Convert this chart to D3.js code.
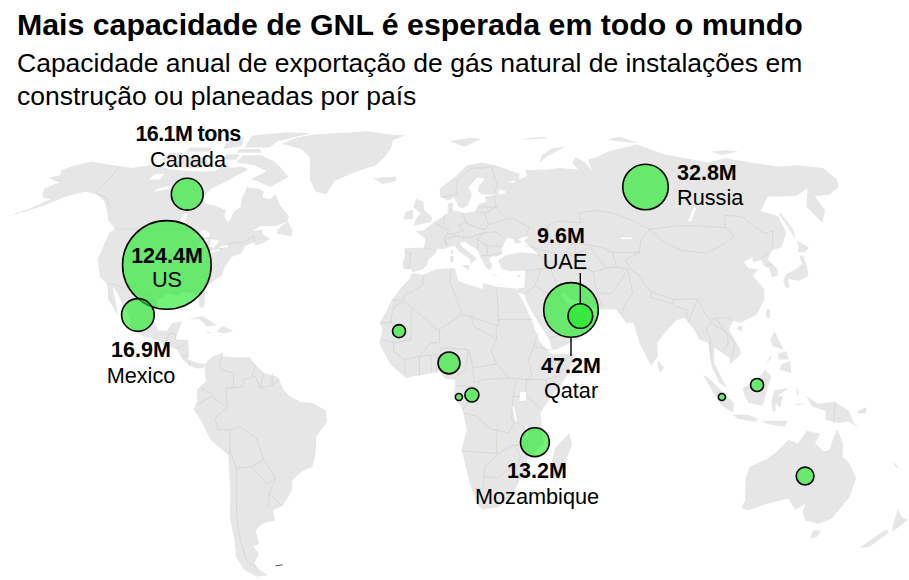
<!DOCTYPE html>
<html>
<head>
<meta charset="utf-8">
<script src="https://cdn.jsdelivr.net/npm/d3@7"></script>
<style>
  html, body { margin: 0; padding: 0; background: #fff; }
  text { font-family: "Liberation Sans", Arial, sans-serif; fill: #000; }
</style>
</head>
<body>
<svg id="chart" width="909" height="580"></svg>
<script>
// Bubble data, million tons a year. Unlabelled bubbles are estimated from their size
const places = ["US", "Qatar", "Russia", "Mexico", "Canada", "Mozambique", "UAE", "Nigeria", "Australia", "Congo", "Mauritania", "Indonesia", "Gabon", "Sumatra"];
const lons = [-97.3, 51, 93.8, -103.1, -101.9, 37.4, 54.1, 7.3, 134.5, 15.2, -10.2, 114, 10.7, 101.8];
const lats = [38.2, 24.8, 62.5, 23.3, 60.1, -14.7, 23, 9, -24.8, -0.6, 18.5, 2.4, -1.2, -1.2];
const capacity = [124.4, 47.2, 32.8, 16.9, 16.1, 13.2, 9.6, 7.6, 5, 3.1, 2.7, 2.7, 0.8, 0.8];
const valueLabels = ["124.4M", "47.2M", "32.8M", "16.9M", "16.1M tons", "13.2M", "9.6M", "", "", "", "", "", "", ""];

// Land outlines as [lon, lat]
const landMasses = [
  // North America
  [[-168,65.6],[-164,66.5],[-166,68.3],[-162,70],[-156.5,71.3],[-150,70.5],[-141,69.6],[-135,69],[-128,70],[-124,69.7],[-116,68.5],[-108,68],[-102,67.8],[-96,68],[-94,71],[-90,69],[-85,69.5],[-81.5,68.5],[-86,66],[-87,65],[-93,62],[-94.5,59],[-92,57],[-88,56.5],[-82.5,55],[-82,53],[-80,51.3],[-79,52],[-79,54.5],[-77,56],[-78,58.5],[-78,62.3],[-73,62],[-70,61],[-69.5,59],[-66,58.5],[-64.5,60.2],[-61,56.5],[-56,53],[-56,51.5],[-60,50],[-66,50],[-69,48.3],[-65,49],[-64.5,47.5],[-61,46],[-64,44.5],[-66,44],[-67,45],[-70,43.7],[-70.5,41.7],[-74,40.6],[-75.5,37.5],[-76,35],[-78,33.8],[-81,31.5],[-80,27],[-80.3,25.2],[-81.8,26],[-83,29],[-85,29.7],[-89,30.2],[-90,29],[-94,29.6],[-97,28],[-97.7,24],[-97.5,22],[-95,18.7],[-92,18.5],[-90.5,20.8],[-87,21.5],[-88,18],[-88.5,16],[-84,15.8],[-83.3,12],[-83.5,10],[-80,9],[-77.5,8.7],[-78,7.5],[-80.5,7.3],[-83,8.3],[-85.5,10],[-87.5,13],[-92,14.3],[-95,16],[-100,17],[-105.5,20],[-105.5,22.5],[-109,26],[-112.5,30],[-114.8,31.7],[-112,27],[-110,23],[-112,25],[-115,28],[-117,32.5],[-120.5,34.5],[-124,40],[-124.5,48],[-123,49],[-128,52],[-131,55],[-135,58],[-140,60],[-146,61],[-152,59.5],[-158,56.5],[-163,54.8],[-170,52.8],[-163,55.5],[-158,58.5],[-162,59],[-165,62],[-161,64]],
  // Arctic Canada
  [[-62,66],[-68,62.5],[-74,64.3],[-78,65],[-73,68],[-80,70],[-89,71],[-88,73.5],[-80,73.7],[-72,71.5],[-67,69]],
  [[-117,69.5],[-105,68.8],[-101,70],[-105,73],[-117,73]],
  [[-90,76.5],[-78,76.5],[-76,79],[-62,82.5],[-75,83],[-92,81.5]],
  [[-125,72],[-118,72],[-116,74.5],[-124,74.5]],
  [[-92,74.5],[-80,74.5],[-82,76],[-92,76]],
  [[-97,72],[-90,72],[-90,74],[-96,74]],
  [[-117,75],[-106,75],[-106,76.5],[-117,76.5]],
  [[-100,76],[-92,77],[-95,80.5],[-102,79]],
  [[-59,47.7],[-53,46.7],[-53,48.5],[-56,51.5],[-59,49]],
  // Greenland, Iceland
  [[-73,78],[-68,80.5],[-60,82],[-32,83.6],[-20,82],[-12,81.5],[-18,79.5],[-18,76.5],[-21,72.5],[-24,70],[-33,67.5],[-41,64.5],[-43,60],[-48,61],[-52,65],[-54,69.5],[-56,73],[-62,76]],
  [[-24,65.5],[-14,66],[-14,64.5],[-20,63.4]],
  // Caribbean
  [[-85,22],[-80,23],[-74.5,20.2],[-78,19.9],[-81,22]],
  [[-74.4,18.4],[-72.5,20],[-68.5,18.6],[-71.5,17.8]],
  [[-78.3,18.3],[-76.3,18.2],[-77,17.8]],
  // South America
  [[-77.5,8.7],[-75,11],[-72,12],[-71.5,11],[-68,10.7],[-62,10.7],[-60,8.5],[-57,6],[-52,4.8],[-50,1],[-48,-1],[-44,-2.7],[-40,-3],[-35.5,-5.2],[-35,-8.5],[-39,-13],[-39.5,-18],[-41,-22],[-45,-23.5],[-48.5,-26],[-49,-29],[-53,-33.5],[-57,-35],[-57,-38],[-62,-39],[-65,-41],[-65,-45],[-67.5,-46],[-66,-48],[-69,-51],[-68.5,-52.5],[-65.2,-54.8],[-70,-55.2],[-74,-53],[-75.5,-49],[-74,-44],[-73.5,-37],[-71.5,-30],[-70.3,-18.5],[-76,-14],[-79,-8],[-81.2,-5],[-80,-2.5],[-80,1],[-77,3.5],[-77.5,7]],
  // Africa
  [[-5.9,35.8],[-2,35.2],[3,36.9],[10,37.3],[11,33.5],[15,32.3],[20,31],[20,32.8],[25,31.7],[32,31.2],[32.6,29.9],[34,27.7],[37,21],[39,15.5],[43,11.5],[51,11.8],[49,6],[42,-2],[39,-6],[40.5,-15],[35,-20],[35.5,-24],[32.8,-26],[31,-30],[26,-34],[20,-34.8],[18.3,-33.5],[15,-27],[11.8,-17],[13.5,-11],[12,-5],[9,-1],[9.5,3.8],[6,4.3],[4,6.3],[-4,5.2],[-7.5,4.4],[-13,8.5],[-17,14.7],[-16,19],[-17,21],[-13,27.7],[-9.8,31.5],[-6.8,34]],
  [[49.3,-12],[50.5,-15.5],[47,-25],[45,-25.5],[43.5,-22],[44.5,-16.5]],
  // Eurasia
  [[-9,43.2],[-1.5,43.4],[-1,46],[-4.7,48.4],[-1.5,48.7],[2,51],[4,52],[8,54],[8.2,57],[10.5,57.5],[10,54.5],[14,54],[19,54.5],[21,57],[24,57.5],[24,59.4],[30,60],[23,60],[21.3,61],[22,63],[25.3,65.3],[22,65.8],[17.5,62.5],[18.5,60],[16.5,56.5],[14,55.5],[12.5,56],[11,59],[8,58],[5.2,59.5],[5,62],[12,66],[18,70],[25,71],[31,70],[41,67],[40,64.8],[35,64.3],[37,63.9],[40,65],[44,66.2],[44,68.3],[54,68.5],[60,69],[68,68.5],[67,71],[70,73],[73,71],[74,68],[75,72],[80,73],[87,75],[104,77.7],[113,74],[130,71],[140,72.5],[160,69.5],[170,70],[180,69],[180,65],[177,62.5],[170,60],[163,59.5],[162,55],[156.8,51],[155.5,56],[163,62],[155,59.5],[143,59.3],[135.5,54.7],[141,53],[140,48],[135,43.5],[130.5,42.5],[127.5,39.8],[129.5,37],[129,35.2],[126.3,34.5],[126.7,37],[125,38],[125,39.7],[121.5,39],[122,40.5],[118,39],[119,37.3],[122.5,37],[119.5,35],[122,31],[121,28],[117,23.5],[110.5,21],[108,21.5],[106,19],[109,13],[109,11.5],[105,8.7],[105,10.5],[100,13.5],[99.5,9],[103.5,1.5],[101,3],[98.5,8],[98,15],[95,16],[94,18.5],[91,22.5],[88,21.7],[85,19.5],[80.2,15],[80,11],[77.5,8],[74,15],[72.7,21],[70,21],[69,22.5],[67,25],[61.5,25],[57,25.8],[56.3,27],[51.5,27.8],[49,30.3],[48,29.5],[50,26.5],[51.3,26],[51,24.5],[54,24],[56,26],[59.8,22.5],[55.5,17.5],[52,16],[45,13],[43.3,12.8],[42.5,16],[39,21],[35,28],[34.9,29.5],[32.6,29.9],[32.3,31.2],[35,31.5],[36,36.5],[30.5,36.3],[27.3,37],[26.3,39.5],[29,41],[35,42],[41.5,41.5],[38,44.5],[37,45.3],[39,47],[35,46],[36,45],[33.5,44.5],[33,46],[30.5,46.3],[28,43],[28.2,41.5],[26,40.7],[24,40.7],[23,40],[24,38],[23,36.5],[21.5,37.5],[19.5,41],[19,42.5],[14,45.2],[12.5,45],[12.5,44],[16,41.8],[18.5,40],[16.5,39],[16,38],[15.8,40],[12,42],[10,44],[6,43],[3.2,43],[3,41.8],[0,39.7],[-0.5,38],[-2,36.8],[-5.5,36],[-6.5,37],[-9,37],[-9.5,38.8],[-8.7,41]],
  // Europe and Arctic islands
  [[-5.5,50.1],[1.3,51.2],[1.7,52.7],[-1.5,55],[-2,57.7],[-5,58.6],[-6,56],[-3,54],[-5,52]],
  [[-10,52],[-6,52.2],[-6,55],[-9,54.5]],
  [[11,79],[22,80.5],[27,80],[18,76.8]],
  [[52,71],[56,73],[68,77],[60,76],[54,73.5]],
  [[48,80],[60,81],[62,80.3],[50,79.8]],
  [[95,79],[105,78.3],[100,81],[92,80]],
  [[137,75],[145,75.5],[150,75],[140,73.7]],
  [[8.3,39],[9.7,39.2],[9.5,41],[8.3,40.9]],
  [[8.7,41.5],[9.5,41.5],[9.5,43],[8.8,42.5]],
  [[12.5,38],[15.5,38.2],[15,36.7]],
  [[23.5,35.3],[26.3,35.2],[24.5,35]],
  [[32.4,34.8],[34.5,35.6],[33.5,34.7]],
  // Asia and Pacific islands
  [[142,46],[143.5,49],[143,54],[142,54],[142,50]],
  [[130,31.5],[131.5,31.5],[132,34],[136,33.5],[140,35],[141,38],[141.5,41],[140,41],[139.5,38.5],[136.5,37],[132,35.5],[130,33.5]],
  [[140,42],[143,42],[145.3,43.5],[142,45.5],[141.5,43.5]],
  [[120,23],[121,22],[122,25],[121,25.2]],
  [[108.7,19.2],[110.5,18.3],[111,20],[109.5,20]],
  [[120,16],[120.5,14],[124,13],[122,18.5]],
  [[122,7],[126,6],[126,9.5],[123,8.7]],
  [[122,10],[125.5,10],[125,12.5],[122,11.8]],
  [[117.3,8.5],[119.5,10.5],[119.3,11.2]],
  [[80,9.7],[82,7.5],[80.5,6],[79.8,8]],
  [[95.3,5.5],[98,4],[103.5,-1],[106,-3],[105.8,-5.8],[102,-4],[100,-1.5]],
  [[105.5,-6.5],[111,-6.5],[114.5,-7.7],[114,-8.7],[108,-7.8]],
  [[109,1.5],[113,3],[117,7],[119,5],[117.5,1],[116,-3.8],[111,-3],[109.5,-0.5]],
  [[119.5,-5.5],[119,-2.5],[120,0.8],[125,1.5],[121,-1],[123,-1],[122,-4.5],[120.5,-3],[120.5,-5.5]],
  [[131,-0.8],[135,-3.2],[141,-2.6],[146,-5.5],[148,-9],[150.5,-10.5],[146,-8.5],[143,-9],[138,-8],[138,-5.5],[133,-4]],
  [[116,-8.5],[119,-8.3],[125,-8.4],[124,-10],[119,-9.5]],
  [[127.5,-3.2],[130.5,-3.2],[128,-3.7]],
  [[127.5,1.8],[128.5,0],[127.8,-0.8]],
  [[149,-5.5],[152,-4.2],[152,-6],[149,-6.2]],
  [[164,-20.2],[167,-22.3],[166,-22.3]],
  // Australia and New Zealand
  [[114,-22],[113.5,-26],[115.5,-32],[115,-34.3],[118,-35],[124,-33],[131,-31.5],[135,-34.8],[138,-33],[138,-35.5],[140.5,-38],[146,-39],[150,-37.5],[153,-31],[153,-25.5],[149,-21],[146,-19],[145.3,-15],[142.5,-10.8],[141.5,-14],[141,-17],[139,-17.5],[135.5,-15],[136.8,-12.2],[132,-11.3],[129.5,-15],[126,-14],[122,-18],[119,-20]],
  [[145,-41],[148.3,-41],[148,-43],[146,-43.5]],
  [[172.7,-34.5],[175.5,-37],[178.5,-37.8],[175.5,-41.5],[174,-39.3]],
  [[172.7,-40.6],[174.3,-41.7],[170.5,-46],[167,-46.2],[171,-42]]
];

// Large lakes, cut out of the land in white
const lakes = [
  [[-92,46.8],[-88,48.8],[-85,47.8],[-85,46.6],[-88,46.8]],
  [[-88,42],[-87,46],[-85,45.8],[-86.3,42]],
  [[-84,46],[-80.5,45.5],[-81.7,43.2],[-83.5,43.8]],
  [[-83,41.6],[-79,42.7],[-79.2,43],[-83,42.2]],
  [[-79.7,43.3],[-76.3,43.5],[-76.5,44.2],[-79,43.9]],
  [[-99,51],[-96.5,50.5],[-97.5,54],[-99,53.5]],
  [[-123,65],[-118,65],[-118,67],[-122,66.8]],
  [[-117,61],[-110,62],[-111,63],[-116,62]],
  [[31.7,-2.5],[34,-2.2],[34,0.3],[32,0.3]],
  [[29.2,-4],[29.8,-4],[31,-8.5],[30.3,-8.5]],
  [[34.2,-9.7],[34.8,-10],[35,-14],[34.3,-14]],
  [[103.7,51.5],[105,51.5],[110,55.7],[109,55.7]],
  [[74,45],[75,46.5],[79,46.5],[79,46],[75,46]],
  [[30,60],[32.5,60.3],[33,61.2],[30.5,61.6]]
];

// Country borders as open [lon, lat] lines
const borders = [
  [[-141,69.6],[-141,60.3],[-135,59],[-130,55.5]],
  [[-123,49],[-95,49],[-89,48],[-83,46],[-82.5,42],[-79,43],[-75,45],[-71,45],[-67.5,47],[-67,45]],
  [[-117,32.5],[-114.8,32.5],[-111,31.3],[-106.5,31.7],[-103,29],[-101,29.8],[-97.3,26]],
  [[-92,14.6],[-91,17.8],[-89,17.9],[-88.3,15.8]],
  [[-87.7,13.2],[-84.8,14.8]],[[-85.7,11],[-83.7,11]],[[-83,8.3],[-82.7,9.6]],
  [[-71.5,12],[-72.5,9],[-72,7],[-67.5,6],[-67.3,1.5]],
  [[-60,8.5],[-61,5]],[[-57,6],[-58,1.5]],[[-54,5.8],[-54,2.3]],
  [[-51.5,4],[-54,2.3],[-58,1.5],[-60,5],[-64,4],[-64,2],[-67,1.5],[-70,1.5],[-69.5,-4.2],[-74,-7.5],[-73,-11],[-69,-11],[-65.5,-10],[-60,-13.5],[-58,-20],[-54.5,-25.5],[-57.5,-30],[-53.5,-33.7]],
  [[-69.5,-17.5],[-68,-22.5],[-70,-33],[-71.5,-40],[-72,-50],[-68.5,-52.5]],
  [[-69,-11],[-69.5,-17.5]],[[-68,-22.5],[-62.5,-22],[-58,-20]],
  [[-62.5,-22],[-58,-27],[-54.5,-25.5]],[[-58.3,-34],[-57.5,-30]],
  [[-80,-3.5],[-75,-1],[-70,-4]],[[-78.7,1.4],[-75,0]],[[-70.3,-18.3],[-69.5,-17.5]],
  [[-13,27.7],[-8.7,27.7],[-8.7,29],[-2,32],[-1.5,35]],
  [[-8.7,27.3],[-4.8,25],[3,19],[4,19],[12,23.5],[9.5,30],[8,33],[8.5,37]],
  [[12,23.5],[14.5,23],[25,20],[25,31.7]],[[25,22],[37,22]],
  [[24,20],[24,16],[22,12.5],[24,8.7],[28,4.5],[34,4],[36,5],[35,10],[37,14],[38.6,18]],
  [[-17,21],[-13,21],[-13,23],[-12,26],[-8.7,27.3]],[[-6,25],[-6,16],[-12,15],[-16.5,16]],
  [[4,19],[4,15],[1,15],[-3,11]],[[-12,15],[-12,12.5],[-8,10],[-8,6]],[[-3,11],[-3,5.2]],[[1,11],[1.3,6.2]],[[-8,10],[-3,11],[3.5,11.5]],
  [[3,6.5],[3.5,11.5],[5,13.5],[14,13],[13,7],[9,4.5]],
  [[14,13],[15,10],[15.5,7.5],[24,8.7]],[[15.5,23],[16,20],[24,16]],
  [[15.5,7.5],[16,3],[19,4],[28,4.5]],[[9.7,2.2],[16,2]],[[12,-5],[14,-2.5],[18,3.5]],
  [[12.5,-6],[17,-7],[22,-11],[24,-11],[24,-13]],[[11.8,-17.3],[23,-18],[25,-18]],
  [[30.5,3.5],[29.5,-1],[29,-8],[30.5,-8.2],[28,-12],[24,-11]],
  [[34,4],[41,4],[41,-1.7]],[[34,-1],[34,4.5]],[[34,-1],[39.2,-4.7]],[[29.5,-1],[34,-1]],
  [[30.5,-8.2],[34.5,-11.7]],[[40.5,-10.5],[34.5,-11.5]],
  [[34.5,-11.5],[35,-16],[30,-15.5],[32.8,-19],[31.5,-22.3],[32,-26.8]],[[24,-13],[24,-18]],[[25,-18],[30,-15.5]],
  [[16.5,-28.6],[20,-28.4],[20,-22],[25,-18]],[[20,-25],[25,-25.5],[29,-22.3],[31.5,-22.3]],
  [[41,4],[45,5],[48,8],[43,11]],[[37,14],[43,12.7]],
  [[-1.5,43.4],[3.2,42.5]],[[-8.7,42],[-6.5,41.7],[-7,37]],
  [[2.5,51],[6,49.5],[8,49],[7.5,47.5],[6,46],[7.5,43.8]],[[7,53.5],[6,50.5]],
  [[9,55],[14.2,54],[15,51],[12,50.2],[13.8,48.6],[10,47.5],[7.5,47.5]],
  [[19,54.5],[23,54],[24,50.5],[22.5,49],[19,49.5],[15,51]],
  [[7,44],[7,46],[10.5,47],[13.7,46.5],[13.7,45.5]],
  [[13.7,46.5],[16.5,46.5],[22,48],[26.5,48.2],[30,46]],[[22,48],[19,46],[19,42.5]],
  [[22.5,41],[20.5,41]],[[22.5,41],[26,41.5],[28,42]],[[22.5,44],[28,43.8]],[[22.5,44],[22.5,41]],[[19,46],[22.5,44]],
  [[24,50.5],[31,52],[34,52.3],[40,49.5],[38,47]],[[23,54],[28,56],[31,52.5]],[[28,59.5],[28,56]],[[21,56],[28,56]],
  [[25,69],[29,69.5],[30,63],[28,60.5]],[[12,60],[13,65],[20,69],[25,69]],[[5,59],[12,60]],
  [[37,44],[48,41.7]],[[41.5,41.5],[44.5,39.5]],
  [[47.5,45.5],[47,48],[47,50],[51,51.5],[61,51],[61,54],[69,55],[77,53.5],[83,51],[87,49]],
  [[87,49],[82,45.5],[80,42],[70,42],[66,43.5],[56,45],[52,42]],
  [[87,49],[98,50],[107,50],[117,49.5],[119,47],[111,43.5],[105,41.7],[96,42.7],[91,45],[87,49]],
  [[117,49.5],[120,53.3],[126,53],[131,47.7],[135,48.4],[131,43],[130.5,42.5]],
  [[125,39.9],[130.5,42.5]],[[126,38],[128.5,38.5]],
  [[80,42],[74,39.5],[75,37],[78,35],[79,32],[81,30.2],[88,28],[92,28],[97,28],[98.5,24],[100,21.7],[102,22.4],[106.5,22.5],[108,21.5]],
  [[53,42],[59,37.5],[61,36],[66,37.3],[70,37.5],[74,37]],[[56,45],[56,41.5],[62,43.5],[66,37.3]],[[70,42],[70,37.5]],
  [[44.5,39.5],[48,38.5],[53.9,37.3],[61,36.5],[61,31],[62,26]],[[44.5,39.5],[46,35],[48,30]],
  [[36,36.5],[42,37],[44.5,37.2]],[[39,32],[44,29.2],[48,29.5]],[[42,37],[39,32],[35,29.5]],
  [[61,29.8],[66,29.5],[70,33],[74,37]],[[74,37],[74,33],[74,30],[71,27],[69,24]],
  [[43,16.5],[52,19],[55,20],[52,16]],[[55,20],[56,24.5]],
  [[88,26],[92,25],[92,22.5]],[[92,21],[94,24],[97,28]],
  [[98.5,10],[99,16],[98,19],[100,21],[105,18],[105,14.5],[103,13]],[[102,22.4],[105,18],[107.5,15],[106,11]],
  [[81,30],[80,28.7],[88,26.5],[88,28]],
  [[141,-2.6],[141,-9]],[[109.5,1.5],[115,2],[117.5,4.2]]
];

const falklands = [[-61,-51.8],[-58,-51.5]];

const svg = d3.select("#chart");

const projection = d3.geoNaturalEarth1()
  .scale(190)
  .translate([428, 393]);

const outline = d3.line().curve(d3.curveLinear);
const project = coords => coords.map(c => projection(c));

// Land
svg.append("g").selectAll("path")
  .data(landMasses)
  .join("path")
  .attr("d", d => outline(project(d)) + "Z")
  .attr("fill", "#e6e6e6");

svg.append("g").selectAll("path")
  .data(borders)
  .join("path")
  .attr("d", d => outline(project(d)))
  .attr("fill", "none")
  .attr("stroke", "#c8c8c8")
  .attr("stroke-width", 0.5);

svg.append("g").selectAll("path")
  .data(lakes)
  .join("path")
  .attr("d", d => outline(project(d)) + "Z")
  .attr("fill", "#fff");

svg.append("path")
  .attr("d", outline(project(falklands)))
  .attr("stroke", "#555")
  .attr("stroke-width", 1);

// Bubbles
const radius = d3.scaleSqrt().domain([0, 124.4]).range([0, 44.3]);
const bubbles = d3.range(places.length).map(i => {
  const [x, y] = projection([lons[i], lats[i]]);
  return { place: places[i], x, y, r: radius(capacity[i]) };
});
const bubbleAt = name => bubbles.find(b => b.place === name);

svg.append("g").selectAll("circle")
  .data(bubbles)
  .join("circle")
  .attr("cx", d => d.x)
  .attr("cy", d => d.y)
  .attr("r", d => d.r)
  .attr("fill", "#16e91e")
  .attr("fill-opacity", 0.6)
  .attr("stroke", "#000")
  .attr("stroke-width", 1.6);

// Leader lines
const uae = bubbleAt("UAE");
const qatar = bubbleAt("Qatar");
svg.append("line")
  .attr("x1", uae.x).attr("x2", uae.x)
  .attr("y1", 273).attr("y2", uae.y - uae.r)
  .attr("stroke", "#000").attr("stroke-width", 1.4);
svg.append("line")
  .attr("x1", qatar.x).attr("x2", qatar.x)
  .attr("y1", qatar.y + qatar.r).attr("y2", 356)
  .attr("stroke", "#000").attr("stroke-width", 1.4);

// Labels: place, anchor, x, value baseline, name baseline
const labelPlaces = ["Canada", "US", "Mexico", "Russia", "UAE", "Qatar", "Mozambique"];
const labelAnchors = ["middle", "middle", "middle", "start", "middle", "middle", "middle"];
const labelX = [188, 167, 141, 677, 561, 571, 537];
const labelNameX = [188, 167, 141, 677, 565, 571, 537];
const labelValueY = [141, 263, 357, 180, 243, 373, 478];
const labelNameY = [167, 287, 383, 205, 269, 398, 504];

labelPlaces.forEach((name, i) => {
  svg.append("text")
    .attr("x", labelX[i]).attr("y", labelValueY[i])
    .attr("text-anchor", labelAnchors[i])
    .attr("font-size", 21.5).attr("font-weight", 700)
    .attr("letter-spacing", name === "Canada" ? -0.6 : 0)
    .text(valueLabels[places.indexOf(name)]);
  svg.append("text")
    .attr("x", labelNameX[i]).attr("y", labelNameY[i])
    .attr("text-anchor", labelAnchors[i])
    .attr("font-size", 21.7)
    .text(name);
});

// Title block
svg.append("text").attr("x", 17).attr("y", 35)
  .attr("font-size", 30.3).attr("font-weight", 700)
  .text("Mais capacidade de GNL é esperada em todo o mundo");
svg.append("text").attr("x", 17).attr("y", 72)
  .attr("font-size", 26.5)
  .text("Capacidade anual de exportação de gás natural de instalações em");
svg.append("text").attr("x", 17).attr("y", 105)
  .attr("font-size", 26.5)
  .text("construção ou planeadas por país");
</script>
</body>
</html>
